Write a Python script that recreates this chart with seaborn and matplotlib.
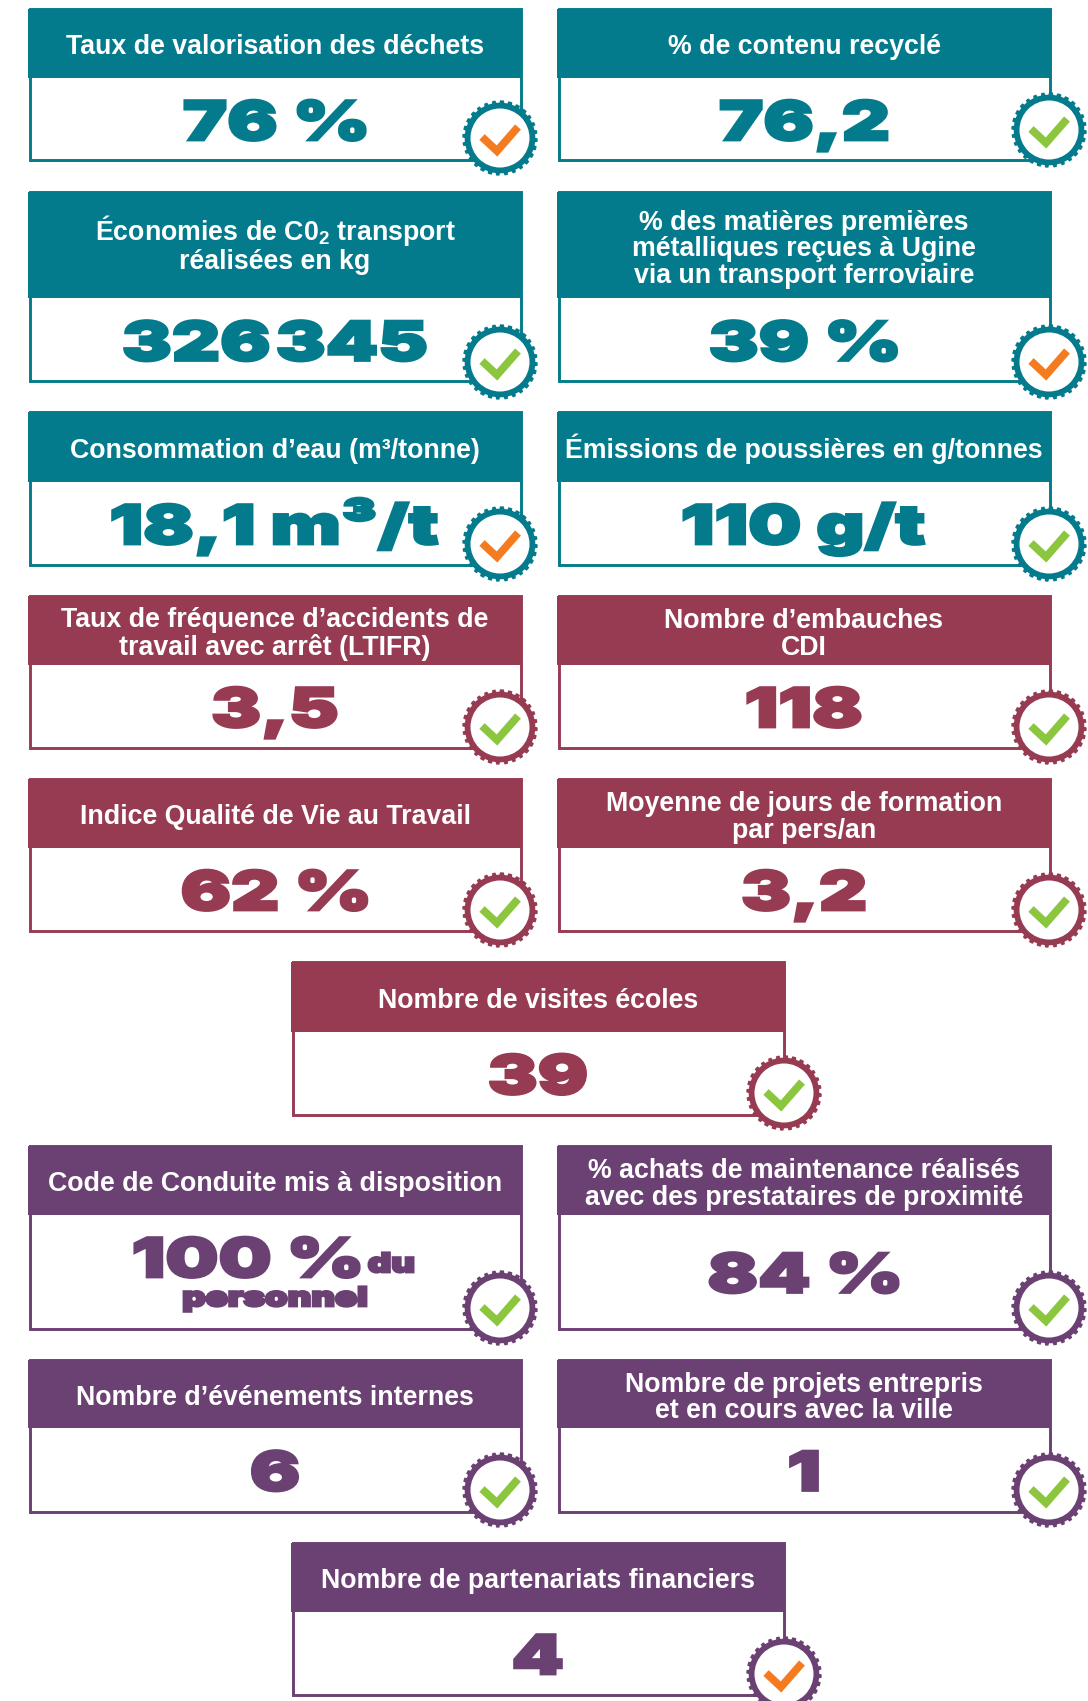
import matplotlib
matplotlib.use("Agg")
import matplotlib.pyplot as plt
import numpy as np
import seaborn as sns
from matplotlib.font_manager import FontProperties
from matplotlib.patches import Rectangle, Polygon, Circle
from matplotlib.text import Text, TextPath
from matplotlib.transforms import Affine2D

# ---------- DATA ----------
TITLES = [
    "Taux de valorisation des déchets", "% de contenu recyclé",
    "Économies de C0$_{\\mathbf{2}}$ transport\nréalisées en kg",
    "% des matières premières\nmétalliques reçues à Ugine\nvia un transport ferroviaire",
    "Consommation d’eau (m³/tonne)", "Émissions de poussières en g/tonnes",
    "Taux de fréquence d’accidents de\ntravail avec arrêt (LTIFR)", "Nombre d’embauches\nCDI",
    "Indice Qualité de Vie au Travail", "Moyenne de jours de formation\npar pers/an",
    "Nombre de visites écoles",
    "Code de Conduite mis à disposition",
    "% achats de maintenance réalisés\navec des prestataires de proximité",
    "Nombre d’événements internes", "Nombre de projets entrepris\net en cours avec la ville",
    "Nombre de partenariats financiers",
]
VALUES = ["76 %", "76,2", "326\u200a345", "39 %", "18,1 m³/t", "110 g/t", "3,5", "118",
          "62 %", "3,2", "39", "", "84 %", "6", "1", "4"]
STATUS = ["orange", "green", "green", "orange", "orange", "green", "green", "green",
          "green", "green", "green", "green", "green", "green", "green", "orange"]
THEMES = ["teal"] * 6 + ["wine"] * 5 + ["purple"] * 5

# ---------- LAYOUT (pixels) ----------
W, H, dpi = 1088, 1701, 100
LEFT, RIGHT, CENTER = 28, 557, 291
CARD_W = 494
LINE_H = 27.6
COLS = [LEFT, RIGHT, LEFT, RIGHT, LEFT, RIGHT, LEFT, RIGHT, LEFT, RIGHT, CENTER,
        LEFT, RIGHT, LEFT, RIGHT, CENTER]
BADGE_DX = {LEFT: 472, RIGHT: 492, CENTER: 493}
ROW_TOP = [9, 9, 192, 192, 412, 412, 596, 596, 779, 779, 962, 1146, 1146, 1360, 1360, 1543]
ROW_HEAD = [78, 78, 298, 298, 482, 482, 665, 665, 848, 848, 1032, 1215, 1215, 1428, 1428, 1612]
ROW_BOT = [162, 162, 383, 383, 566, 566, 749, 749, 932, 932, 1116, 1330, 1330, 1513, 1513, 1696]
BADGE_Y = [138, 130, 362, 362, 544, 544, 727, 727, 910, 910, 1093, 1308, 1308, 1490, 1490, 1674]

sns.set_theme(style="white")
plt.rcParams["font.family"] = ["Liberation Sans", "DejaVu Sans"]
plt.rcParams["mathtext.fontset"] = "custom"
plt.rcParams["mathtext.bf"] = "Liberation Sans:bold"

teal, wine, purple, green, orange = sns.color_palette(
    ["#047B8C", "#973B53", "#6B4073", "#8CC63F", "#F47B20"])
theme_col = {"teal": teal, "wine": wine, "purple": purple}
check_col = {"green": green, "orange": orange}

fig, ax = plt.subplots(figsize=(W / dpi, H / dpi), dpi=dpi)
fig.subplots_adjust(0, 0, 1, 1)
ax.set_xlim(0, W)
ax.set_ylim(H, 0)
ax.axis("off")

BIG_FONT = FontProperties(family="Inter", weight=900)


class WideText(Text):
    # the numbers use an extended black face: same text, drawn wider than the font
    stretch = 1.38
    stroke = 2.0

    def draw(self, renderer):
        path = TextPath((0, 0), self.get_text(), size=self.get_fontsize(), prop=BIG_FONT)
        box = path.get_extents()
        x, y = self.get_transform().transform(self.get_position())
        tr = (Affine2D().translate(-(box.x0 + box.x1) / 2, 0)
              .scale(self.stretch * dpi / 72, dpi / 72).translate(x, y))
        gc = renderer.new_gc()
        gc.set_foreground(self.get_color())
        gc.set_linewidth(self.stroke)
        gc.set_joinstyle("miter")
        renderer.draw_path(gc, path, tr, matplotlib.colors.to_rgb(self.get_color()))
        gc.restore()


def big_text(x, y, s, col, size=39):
    # y is the baseline
    ax.add_artist(WideText(x, y, s, color=col, fontsize=size, ha="center", va="baseline",
                           zorder=4))


def badge(cx, cy, ring, check):
    # scalloped ring
    t = np.linspace(0, 2 * np.pi, 361)
    r = 36.5 + 1.2 * np.sign(np.sin(t * 28))
    ax.add_patch(Polygon(np.c_[cx + r * np.cos(t), cy + r * np.sin(t)], closed=True,
                         facecolor=ring, edgecolor="none", zorder=5))
    ax.add_patch(Circle((cx, cy), 29.5, facecolor="white", edgecolor="none", zorder=6))
    ax.plot([cx - 18, cx - 3, cx + 18], [cy - 1, cy + 13, cy - 11], color=check, lw=5.6,
            solid_joinstyle="miter", solid_capstyle="butt", zorder=7)


for i, title in enumerate(TITLES):
    x0, top, head, bot = COLS[i], ROW_TOP[i], ROW_HEAD[i], ROW_BOT[i]
    col = theme_col[THEMES[i]]
    ax.add_patch(Rectangle((x0 + 1.5, top), CARD_W - 3, bot - top - 1.5, facecolor="white",
                           edgecolor=col, lw=2.1, zorder=1))
    ax.add_patch(Rectangle((x0, top), CARD_W, head - top, facecolor=col, edgecolor="none", zorder=2))
    xc = x0 + CARD_W / 2
    n_lines = title.count("\n") + 1
    # baseline alignment anchors the last line of the block
    ax.text(xc, (top + head) / 2 + 10.5 + (n_lines - 1) * LINE_H / 2, title, ha="center",
            va="baseline", color="white", fontsize=19.3, fontweight="bold", linespacing=1.04,
            zorder=4)
    if VALUES[i]:
        big_text(xc, (head + bot) / 2 + 20, VALUES[i], col)
    badge(x0 + BADGE_DX[x0], BADGE_Y[i], col, check_col[STATUS[i]])

# the one card with a mixed size value
code_col = theme_col["purple"]
big_text(LEFT + 219, 1277, "100 %", code_col)
big_text(LEFT + 363, 1272, "du", code_col, size=19)
big_text(LEFT + 247, 1306, "personnel", code_col, size=19)

plt.savefig("out.png", dpi=dpi)
print("cards drawn:", len(TITLES))
